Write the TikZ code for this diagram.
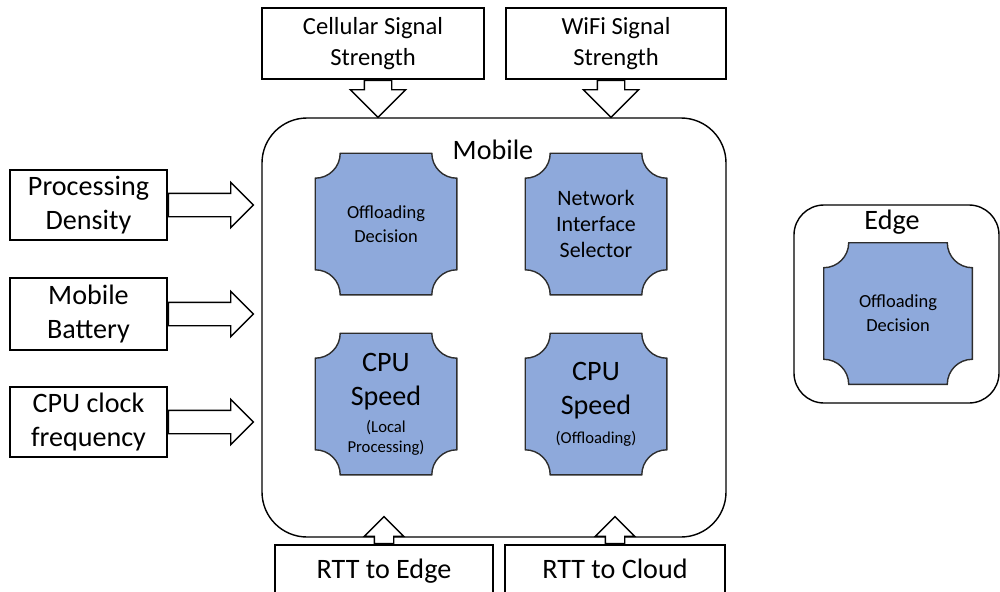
\documentclass[tikz,border=0pt]{standalone}
\usepackage{fontspec}
\setmainfont{Carlito}
\usetikzlibrary{shapes.arrows, positioning, calc}

\definecolor{blockblue}{RGB}{142,169,219}
\definecolor{blockline}{RGB}{45,45,45}
\newcommand{\cpunote}{\fontsize{9.5}{11}\selectfont}

\begin{document}
\begin{tikzpicture}[
    input/.style={rectangle, draw, line width=0.8pt, align=center, inner sep=0pt},
    host/.style={rectangle, draw, line width=0.8pt},
    notch/.style={rectangle, inner sep=0pt, minimum width=2.86cm, minimum height=2.86cm, align=center,
        path picture={
            \filldraw[fill=blockblue, draw=blockline, line width=0.8pt]
                let \p1=($(path picture bounding box.south west)+(0.4pt,0.4pt)$),
                    \p2=($(path picture bounding box.north east)-(0.4pt,0.4pt)$) in
                (\x1+0.5cm,\y1) -- (\x2-0.5cm,\y1) arc[start angle=180, end angle=90, radius=0.5cm]
                -- (\x2,\y2-0.5cm) arc[start angle=270, end angle=180, radius=0.5cm]
                -- (\x1+0.5cm,\y2) arc[start angle=0, end angle=-90, radius=0.5cm]
                -- (\x1,\y1+0.5cm) arc[start angle=90, end angle=0, radius=0.5cm] -- cycle;
        }},
    feed/.style={single arrow, draw, line width=0.8pt, fill=white, inner xsep=0pt, single arrow tip angle=90, anchor=tail},
    feedside/.style={feed, minimum height=1.7cm, inner ysep=0.22cm, single arrow head extend=0.22cm},
    feedtop/.style={feed, rotate=-90, minimum height=0.74cm, inner ysep=0.26cm, single arrow head extend=0.28cm},
    feedbottom/.style={feed, rotate=90, minimum height=0.54cm, inner ysep=0.18cm, single arrow head extend=0.2cm},
    big/.style={font=\fontsize{16}{19.5}\selectfont}
]
\useasboundingbox (0,0) rectangle (20,11.82);
\clip (0,0) rectangle (20,11.82);

% Mobile device
\node[host, rounded corners=0.9cm, minimum width=9.28cm, minimum height=8.38cm] (mobile) at (9.88,5.27) {};
\node[big] (mobilelabel) at (9.86,8.82) {Mobile};

\node[notch, font=\fontsize{10.5}{13.6}\selectfont] (offload) at (7.72,7.34) {Offloading\\Decision};
\node[notch, font=\fontsize{12.5}{14.8}\selectfont] (nis) at (11.92,7.34) {Network\\Interface\\Selector};
\node[notch, big] (cpulocal) at (7.72,3.74) {CPU\\Speed\\[-4pt]\cpunote(Local\\[-8.5pt]\cpunote Processing)};
\node[notch, big] (cpuoff) at (11.92,3.74) {CPU\\Speed\\[-3pt]\cpunote(Offloading)};

% Edge server
\node[host, rounded corners=0.6cm, minimum width=4.1cm, minimum height=3.96cm] (edge) at (17.93,5.74) {};
\node[big] (edgelabel) at (17.84,7.38) {Edge};
\node[notch, minimum width=3cm, font=\fontsize{10.5}{13.6}\selectfont] (edgeoffload) at (17.96,5.55) {Offloading\\Decision};

% Inputs on top
\node[input, minimum width=4.44cm, minimum height=1.42cm, font=\fontsize{14}{17.6}\selectfont] (cell) at (7.46,10.95) {Cellular Signal\\Strength};
\node[input, minimum width=4.4cm, minimum height=1.42cm, font=\fontsize{14}{17.6}\selectfont] (wifi) at (12.32,10.95) {WiFi Signal\\Strength};
\node[feedtop] (cellarrow) at ([xshift=0.1cm]cell.south) {};
\node[feedtop] (wifiarrow) at ([xshift=-0.1cm]wifi.south) {};

% Inputs on the left
\node[input, big, minimum width=3.14cm, minimum height=1.4cm] (density) at (1.77,7.72) {Processing\\Density};
\node[input, big, minimum width=3.14cm, minimum height=1.44cm] (battery) at (1.77,5.54) {Mobile\\Battery};
\node[input, big, minimum width=3.14cm, minimum height=1.4cm] (clock) at (1.77,3.38) {CPU clock\\frequency};
\node[feedside] (densityarrow) at (density.east) {};
\node[feedside] (batteryarrow) at (battery.east) {};
\node[feedside] (clockarrow) at (clock.east) {};

% Inputs at the bottom
\node[input, big, minimum width=4.36cm, minimum height=1.1cm, text height=0.9em, text depth=0.22em] (rttedge) at (7.68,0.37) {RTT to Edge};
\node[input, big, minimum width=4.4cm, minimum height=1.1cm, text height=0.9em, text depth=0.22em] (rttcloud) at (12.3,0.37) {RTT to Cloud};
\node[feedbottom] (rttedgearrow) at (rttedge.north) {};
\node[feedbottom] (rttcloudarrow) at (rttcloud.north) {};

\end{tikzpicture}
\end{document}
